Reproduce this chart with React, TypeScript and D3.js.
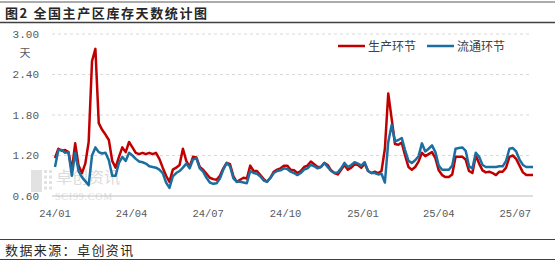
import React from "react";
import * as d3 from "d3";

const title = "图2  全国主产区库存天数统计图";
const source = "数据来源：卓创资讯";
const unit = "天";
const seriesNames = ["生产环节", "流通环节"];
const startDate = "2024-01-01";
const stepDays = 4;
const yTicks = [0.6, 1.2, 1.8, 2.4, 3.0];
const xTickDates = ["2024-01-01", "2024-04-01", "2024-07-01", "2024-10-01", "2025-01-01", "2025-04-01", "2025-07-01"];
const xTickLabels = ["24/01", "24/04", "24/07", "24/10", "25/01", "25/04", "25/07"];

const production = [
  1.16, 1.30, 1.27, 1.28, 1.25, 0.98, 1.38, 1.05, 0.94, 1.08,
  1.40, 2.60, 2.78, 1.68, 1.58, 1.51, 1.43, 1.12, 1.02, 1.18,
  1.32, 1.25, 1.40, 1.32, 1.24, 1.22, 1.24, 1.22, 1.24, 1.22,
  1.24, 1.15, 1.02, 0.90, 0.81, 0.99, 1.02, 1.06, 1.30, 1.12,
  1.03, 1.18, 1.17, 1.03, 0.99, 0.93, 0.87, 0.85, 0.84, 0.90,
  1.01, 1.09, 1.07, 0.89, 0.81, 0.84, 0.87, 0.86, 1.05, 0.97,
  0.97, 0.91, 0.85, 0.81, 0.87, 0.96, 0.99, 1.01, 1.05, 1.05,
  0.99, 0.98, 0.94, 0.97, 1.03, 1.05, 1.11, 1.07, 1.03, 1.03,
  1.09, 1.06, 0.98, 0.94, 0.92, 0.99, 1.06, 0.99, 1.02, 1.07,
  1.06, 1.02, 1.08, 0.97, 0.94, 0.96, 0.94, 0.97, 1.30, 2.12,
  1.75, 1.37, 1.36, 1.39, 1.20, 1.03, 0.99, 1.03, 1.11, 1.24,
  1.19, 1.22, 1.25, 1.16, 0.98, 0.91, 0.88, 0.88, 0.92, 1.18,
  1.18, 1.18, 1.14, 0.97, 0.94, 1.20, 1.08, 0.98, 0.95, 0.96,
  0.94, 0.91, 0.96, 0.96, 1.02, 1.18, 1.20, 1.15, 1.05, 0.95,
  0.91, 0.91, 0.91,
];

const circulation = [
  1.03, 1.28, 1.28, 1.24, 1.25, 0.90, 1.24, 0.97, 0.88, 0.82,
  0.76, 1.20, 1.32, 1.25, 1.23, 1.24, 1.13, 0.90, 0.90, 1.09,
  1.18, 1.12, 1.24, 1.20, 1.15, 1.11, 1.10, 1.08, 1.04, 1.03,
  1.02, 0.99, 0.94, 0.80, 0.72, 0.89, 0.94, 0.97, 1.02, 1.08,
  1.01, 1.14, 1.16, 1.01, 0.96, 0.87, 0.80, 0.78, 0.79, 0.86,
  0.99, 1.09, 1.04, 0.86, 0.81, 0.81, 0.80, 0.79, 0.97, 0.94,
  0.93, 0.89, 0.83, 0.81, 0.87, 0.94, 0.97, 0.98, 1.01, 1.00,
  0.96, 0.94, 0.91, 0.94, 0.99, 1.01, 1.06, 1.04, 1.01, 1.03,
  1.09, 1.03, 0.97, 0.94, 0.95, 1.01, 1.09, 1.03, 1.06, 1.10,
  1.08, 1.05, 1.10, 0.97, 0.94, 0.94, 0.92, 0.93, 0.80, 1.40,
  1.65, 1.41, 1.43, 1.46, 1.28, 1.12, 1.09, 1.13, 1.19, 1.38,
  1.26, 1.30, 1.35, 1.25, 1.05, 0.99, 0.99, 0.99, 1.05, 1.30,
  1.31, 1.32, 1.27, 1.04, 1.01, 1.24, 1.18, 1.06, 1.03, 1.03,
  1.03, 1.03, 1.04, 1.04, 1.12, 1.30, 1.31, 1.26, 1.14, 1.06,
  1.03, 1.03, 1.03,
];

const colors = ["#C00000", "#1B6FA0"];

const W = 555;
const H = 260;

export default function App() {
  const parse = d3.timeParse("%Y-%m-%d");
  const start = parse(startDate) as Date;
  const dates = production.map((_, i) => d3.timeDay.offset(start, i * stepDays));
  const x = d3
    .scaleTime()
    .domain([start, dates[dates.length - 1]])
    .range([55, 533]);
  const y = d3.scaleLinear().domain([0.6, 3.0]).range([196, 34]);
  const line = d3
    .line<number>()
    .x((_, i) => x(dates[i]))
    .y((d) => y(d))
    .curve(d3.curveLinear);

  const cjk = "'Noto Sans CJK SC', 'Noto Sans', sans-serif";
  const mono = "'Liberation Mono', 'DejaVu Sans Mono', monospace";

  return (
    <svg
      width={W}
      height={H}
      style={{ position: "absolute", left: 0, top: 0, background: "#fff" }}
    >
      <rect x={0} y={0} width={W} height={H} fill="#fff" />
      {/* header */}
      <line x1={0} x2={W} y1={2} y2={2} stroke="#595959" strokeWidth={1} />
      <text
        x={5}
        y={18}
        fontFamily={cjk}
        fontSize={13}
        fontWeight={700}
        letterSpacing={1.6}
        fill="#262626"
      >
        {title}
      </text>
      <line x1={0} x2={W} y1={22.5} y2={22.5} stroke="#404040" strokeWidth={1.5} />

      {/* watermark */}
      <g opacity={0.6}>
        <rect x={31} y={170} width={11} height={22} fill="#d0d0d0" />
        {[0, 1, 2, 3].map((r) =>
          [0, 1].map((c) => (
            <rect
              key={`${r}-${c}`}
              x={44 + c * 5}
              y={170 + r * 5.5}
              width={3}
              height={3}
              fill="#d0d0d0"
            />
          ))
        )}
        <text x={56} y={183} fontFamily={cjk} fontSize={16} fill="#c4c4c4">
          卓创资讯
        </text>
        <text x={55} y={200} fontFamily="'Liberation Serif', serif" fontSize={10} fill="#cccccc" letterSpacing={0.8}>
          SCI99.COM
        </text>
      </g>

      {/* grid */}
      {yTicks.slice(1).map((t) => (
        <line
          key={t}
          x1={52}
          x2={530}
          y1={y(t)}
          y2={y(t)}
          stroke="#d9d9d9"
          strokeWidth={1}
          strokeDasharray="3,3"
        />
      ))}
      <line x1={52} x2={533} y1={y(0.6)} y2={y(0.6)} stroke="#bfbfbf" strokeWidth={1} />

      {/* y labels */}
      {yTicks.map((t) => (
        <text
          key={t}
          x={39}
          y={y(t) + 1}
          textAnchor="end"
          dominantBaseline="middle"
          fontFamily={mono}
          fontSize={11}
          fill="#595959"
        >
          {t.toFixed(2)}
        </text>
      ))}
      <text x={25} y={57} textAnchor="middle" fontFamily={cjk} fontSize={11} fill="#595959">
        {unit}
      </text>

      {/* x labels */}
      {xTickDates.map((d, i) => (
        <text
          key={d}
          x={x(parse(d) as Date)}
          y={217}
          textAnchor="middle"
          fontFamily={mono}
          fontSize={10.5}
          fill="#595959"
        >
          {xTickLabels[i]}
        </text>
      ))}

      {/* series */}
      <path d={line(production) || ""} fill="none" stroke={colors[0]} strokeWidth={2.5} strokeLinejoin="round" />
      <path d={line(circulation) || ""} fill="none" stroke={colors[1]} strokeWidth={2.5} strokeLinejoin="round" />

      {/* legend */}
      {seriesNames.map((n, i) => {
        const lx = i === 0 ? 338 : 427;
        return (
          <g key={n}>
            <line x1={lx} x2={lx + 27} y1={46} y2={46} stroke={colors[i]} strokeWidth={2.5} />
            <text x={lx + 30} y={50.5} fontFamily={cjk} fontSize={12} fill="#404040">
              {n}
            </text>
          </g>
        );
      })}

      {/* footer */}
      <line x1={0} x2={W} y1={239.5} y2={239.5} stroke="#404040" strokeWidth={1} />
      <text x={5} y={255} fontFamily={cjk} fontSize={13} letterSpacing={1.4} fill="#262626">
        {source}
      </text>
      <line x1={0} x2={W} y1={259.5} y2={259.5} stroke="#404040" strokeWidth={1} />
    </svg>
  );
}
